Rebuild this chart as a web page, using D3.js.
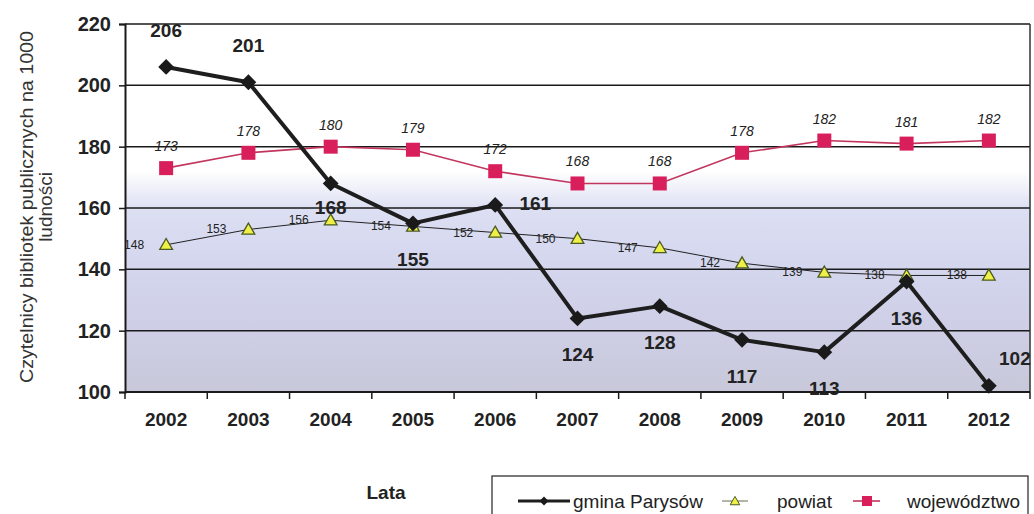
<!DOCTYPE html>
<html>
<head>
<meta charset="utf-8">
<script src="https://cdn.jsdelivr.net/npm/d3@7"></script>
<style>
  body { margin: 0; background: #fff; }
  svg { display: block; font-family: Arial, "Liberation Sans", sans-serif; }
</style>
</head>
<body>
<svg id="chart" width="1034" height="514"></svg>
<script>
const years = ['2002', '2003', '2004', '2005', '2006', '2007', '2008', '2009', '2010', '2011', '2012'];
const gmina = [206, 201, 168, 155, 161, 124, 128, 117, 113, 136, 102];
const powiat = [148, 153, 156, 154, 152, 150, 147, 142, 139, 138, 138];
const wojewodztwo = [173, 178, 180, 179, 172, 168, 168, 178, 182, 181, 182];
const gminaLabelSide = ['above', 'above', 'belowClose', 'below', 'right', 'below', 'below', 'below', 'below', 'below', 'upRight'];
const yTicks = [100, 120, 140, 160, 180, 200, 220];
const seriesNames = ['gmina Parysów', 'powiat', 'województwo'];

const svg = d3.select('#chart');
const margin = { top: 24, right: 4, bottom: 122, left: 125 };
const width = 1034 - margin.left - margin.right;
const height = 514 - margin.top - margin.bottom;

const x = d3.scaleBand().domain(years).range([margin.left, margin.left + width]);
const y = d3.scaleLinear().domain([100, 220]).range([margin.top + height, margin.top]);
const cx = d => x(d) + x.bandwidth() / 2;

// background gradient of the plot area
const defs = svg.append('defs');
const grad = defs.append('linearGradient')
  .attr('id', 'bg').attr('x1', 0).attr('y1', 0).attr('x2', 0).attr('y2', 1);
[
  ['0%', '#ffffff'], ['40%', '#ffffff'], ['50%', '#dde0f3'],
  ['62%', '#d5d8ef'], ['80%', '#cfd0e8'], ['100%', '#c8c8da'],
].forEach(s => grad.append('stop').attr('offset', s[0]).attr('stop-color', s[1]));

svg.append('rect')
  .attr('x', margin.left).attr('y', margin.top)
  .attr('width', width).attr('height', height)
  .attr('fill', 'url(#bg)');

// gridlines
svg.append('g').selectAll('line')
  .data(yTicks)
  .enter().append('line')
  .attr('x1', margin.left).attr('x2', margin.left + width)
  .attr('y1', d => y(d)).attr('y2', d => y(d))
  .attr('stroke', '#1a1a1a').attr('stroke-width', 1.5);

// right border
svg.append('line')
  .attr('x1', margin.left + width).attr('x2', margin.left + width)
  .attr('y1', margin.top).attr('y2', margin.top + height)
  .attr('stroke', '#333').attr('stroke-width', 1.5);

// y axis
const yAxis = d3.axisLeft(y).tickValues(yTicks).tickSize(6).tickPadding(8);
const gy = svg.append('g')
  .attr('transform', `translate(${margin.left},0)`)
  .call(yAxis);
gy.select('.domain').attr('stroke', '#1a1a1a').attr('stroke-width', 2);
gy.selectAll('.tick line').attr('stroke', '#1a1a1a').attr('stroke-width', 1.5);
gy.selectAll('text')
  .attr('font-size', 20).attr('font-weight', 'bold').attr('fill', '#222')
  .attr('font-family', 'Arial, "Liberation Sans", sans-serif');

// x axis with ticks between categories
svg.append('line')
  .attr('x1', margin.left).attr('x2', margin.left + width)
  .attr('y1', y(100)).attr('y2', y(100))
  .attr('stroke', '#1a1a1a').attr('stroke-width', 2);
svg.append('g').selectAll('line')
  .data(years.concat(['end']))
  .enter().append('line')
  .attr('x1', (d, i) => margin.left + i * x.step())
  .attr('x2', (d, i) => margin.left + i * x.step())
  .attr('y1', y(100)).attr('y2', y(100) + 7)
  .attr('stroke', '#1a1a1a').attr('stroke-width', 1.5);
svg.append('g').selectAll('text')
  .data(years)
  .enter().append('text')
  .attr('x', d => cx(d))
  .attr('y', y(100) + 34)
  .attr('text-anchor', 'middle')
  .attr('font-size', 19).attr('font-weight', 'bold').attr('fill', '#222')
  .text(d => d);

// y title
const yTitle = svg.append('text')
  .attr('transform', 'translate(33,207) rotate(-90)')
  .attr('text-anchor', 'middle')
  .attr('font-size', 19).attr('fill', '#333');
yTitle.append('tspan').attr('x', 0).attr('dy', 0)
  .attr('textLength', 352).attr('lengthAdjust', 'spacingAndGlyphs')
  .text('Czytelnicy bibliotek publicznych na 1000');
yTitle.append('tspan').attr('x', 0).attr('dy', 19).text('ludności');

// x title
svg.append('text')
  .attr('x', 386).attr('y', 499)
  .attr('text-anchor', 'middle')
  .attr('font-size', 19).attr('font-weight', 'bold').attr('fill', '#222')
  .text('Lata');

const line = d3.line().x((d, i) => cx(years[i])).y(d => y(d));

// województwo series
svg.append('path')
  .datum(wojewodztwo)
  .attr('d', line)
  .attr('fill', 'none').attr('stroke', '#c2365e').attr('stroke-width', 1.6);
svg.append('g').selectAll('rect')
  .data(wojewodztwo)
  .enter().append('rect')
  .attr('x', (d, i) => cx(years[i]) - 7)
  .attr('y', d => y(d) - 7)
  .attr('width', 14).attr('height', 14)
  .attr('fill', '#d81f5c');
svg.append('g').selectAll('text')
  .data(wojewodztwo)
  .enter().append('text')
  .attr('x', (d, i) => cx(years[i]))
  .attr('y', d => y(d) - 17)
  .attr('text-anchor', 'middle')
  .attr('font-size', 14).attr('font-style', 'italic').attr('fill', '#222')
  .text(d => d);

// powiat series
svg.append('path')
  .datum(powiat)
  .attr('d', line)
  .attr('fill', 'none').attr('stroke', '#222').attr('stroke-width', 1);
const tri = d3.symbol().type(d3.symbolTriangle).size(70);
svg.append('g').selectAll('path')
  .data(powiat)
  .enter().append('path')
  .attr('d', tri)
  .attr('transform', (d, i) => `translate(${cx(years[i])},${y(d) + 1})`)
  .attr('fill', '#eef048').attr('stroke', '#4a5a20').attr('stroke-width', 1.3);
svg.append('g').selectAll('text')
  .data(powiat)
  .enter().append('text')
  .attr('x', (d, i) => cx(years[i]) - 32)
  .attr('y', d => y(d) + 4)
  .attr('text-anchor', 'middle')
  .attr('font-size', 12).attr('fill', '#222')
  .text(d => d);

// gmina series
svg.append('path')
  .datum(gmina)
  .attr('d', line)
  .attr('fill', 'none').attr('stroke', '#1e1e1e').attr('stroke-width', 4)
  .attr('stroke-linejoin', 'round');
const diamond = d3.symbol().type(d3.symbolSquare).size(125);
svg.append('g').selectAll('path')
  .data(gmina)
  .enter().append('path')
  .attr('d', diamond)
  .attr('transform', (d, i) => `translate(${cx(years[i])},${y(d)}) rotate(45)`)
  .attr('fill', '#1a1a1a');
const labelDx = { above: 0, below: 0, belowClose: 0, right: 40, upRight: 26 };
const labelDy = { above: -30, below: 43, belowClose: 31, right: 5, upRight: -21 };
svg.append('g').selectAll('text')
  .data(gmina)
  .enter().append('text')
  .attr('x', (d, i) => cx(years[i]) + labelDx[gminaLabelSide[i]])
  .attr('y', (d, i) => y(d) + labelDy[gminaLabelSide[i]])
  .attr('text-anchor', 'middle')
  .attr('font-size', 19).attr('font-weight', 'bold').attr('fill', '#222')
  .text(d => d);

// legend
const legend = svg.append('g').attr('transform', 'translate(492,476)');
legend.append('rect')
  .attr('x', 0).attr('y', 0).attr('width', 536).attr('height', 50)
  .attr('fill', '#fff').attr('stroke', '#222').attr('stroke-width', 1.2);
const items = legend.selectAll('g.item')
  .data(seriesNames)
  .enter().append('g')
  .attr('class', 'item')
  .attr('transform', (d, i) => `translate(${[26, 230, 361][i]},25)`);
items.append('line')
  .attr('x1', 0).attr('x2', (d, i) => [52, 26, 27][i]).attr('y1', 0).attr('y2', 0)
  .attr('stroke', (d, i) => ['#1e1e1e', '#6a6a50', '#c2365e'][i])
  .attr('stroke-width', (d, i) => [3, 1, 1.6][i]);
items.each(function (d, i) {
  const g = d3.select(this);
  if (i === 0) {
    g.append('path').attr('d', d3.symbol().type(d3.symbolSquare).size(40))
      .attr('transform', 'translate(26,0) rotate(45)').attr('fill', '#1a1a1a');
  } else if (i === 1) {
    g.append('path').attr('d', d3.symbol().type(d3.symbolTriangle).size(40))
      .attr('transform', 'translate(13,1)').attr('fill', '#eef048')
      .attr('stroke', '#4a5a20').attr('stroke-width', 1);
  } else {
    g.append('rect').attr('x', 9).attr('y', -5).attr('width', 10).attr('height', 10)
      .attr('fill', '#d81f5c');
  }
});
items.append('text')
  .attr('x', (d, i) => [55, 55, 54][i]).attr('y', 7)
  .attr('font-size', 19).attr('fill', '#222')
  .text(d => d);
</script>
</body>
</html>
